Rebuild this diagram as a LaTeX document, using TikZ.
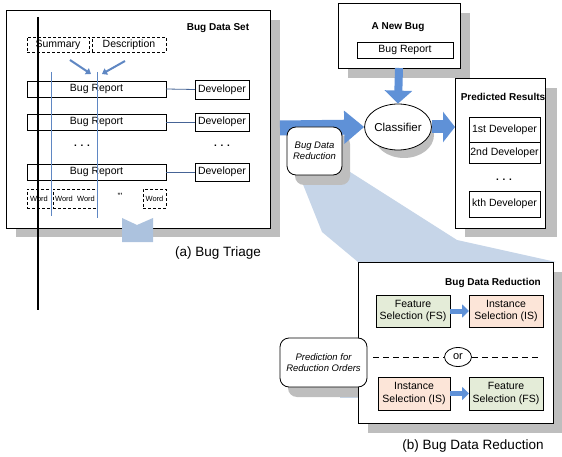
\documentclass[tikz,border=0pt]{standalone}
\usepackage{fontspec}
\setmainfont{Liberation Sans}
\usetikzlibrary{shapes.geometric,arrows.meta,calc}
\definecolor{arrowblue}{RGB}{95,145,215}
\definecolor{fanblue}{RGB}{198,213,232}
\definecolor{notchblue}{RGB}{172,194,222}
\definecolor{lineblue}{RGB}{95,135,195}
\definecolor{linkblue}{RGB}{70,100,150}
\definecolor{shadowgrey}{RGB}{190,190,190}
\definecolor{fsgreen}{RGB}{228,236,216}
\definecolor{ispeach}{RGB}{252,229,216}
\newcommand\rnode[7]{\node[#6, minimum width={#4-#2}, minimum height={#5-#3}, anchor=north west] (#1) at (#2,#3) {#7};}
\begin{document}
\begin{tikzpicture}[x=1pt,y=-1pt,
  box/.style={draw=black, line width=0.8pt, fill=white, inner sep=0pt, outer sep=0pt, font=\fontsize{10.5}{12}\selectfont},
  dbox/.style={box, dash pattern=on 3pt off 2pt},
  wbox/.style={dbox, font=\fontsize{7.5}{9}\selectfont},
  rbox/.style={box, rounded corners=9pt, align=center, font=\fontsize{9.5}{11.5}\selectfont\itshape},
  selbox/.style={box, align=center, font=\fontsize{10.5}{12.5}\selectfont},
  title/.style={font=\fontsize{10}{12}\selectfont\bfseries, inner sep=0pt},
  caption/.style={font=\fontsize{13.5}{16}\selectfont, inner sep=0pt},
  dots/.style={font=\fontsize{10}{12}\selectfont\bfseries, inner sep=0pt},
  shadow/.style={fill=shadowgrey},
  fatarrow/.style={draw=arrowblue, line width=#1},
  smallarrow/.style={draw=lineblue, line width=2pt, -{Triangle[length=5pt,width=7pt]}},
  link/.style={draw=linkblue, line width=0.8pt},
  vline/.style={draw=lineblue, line width=1pt}
]
\useasboundingbox (0,0) rectangle (562,457);

% ---------- fan (light blue) ----------
\fill[fanblue] (300,177) -- (347,170) -- (457,240) -- (556,262) -- (358,262) -- (322,232) -- cycle;
\fill[fanblue] (340,360) rectangle (360,398);

% ---------- shadows ----------
\fill[shadow] (16,20) rectangle (280,237);
\fill[shadow] (348,13) rectangle (470,78);
\fill[shadow] (465,88) rectangle (557,237);
\fill[shadow] (368,272) rectangle (562,433);
\fill[shadow, rounded corners=9pt] (295,135) rectangle (350,185);
\fill[shadow, rounded corners=9pt] (288,346) rectangle (375,397);
\fill[shadow] (404,135) ellipse [x radius=30, y radius=23];

% ---------- classifier ----------
\node[draw=black, line width=0.8pt, fill=white, ellipse, minimum width=60pt, minimum height=46pt, inner sep=0pt, font=\fontsize{11.5}{13}\selectfont] (classifier) at (398,127) {Classifier};

% ---------- (a) Bug data set ----------
\rnode{dataset}{6}{10}{270}{228}{box}{}
\node[title] (dstitle) at (218,28) {Bug Data Set};
\rnode{summary}{27}{37}{89}{52}{dbox}{Summary}
\rnode{descr}{92}{37}{166}{52}{dbox}{Description}
\rnode{br1}{27}{81}{166}{97}{box}{Bug Report}
\rnode{br2}{27}{114}{166}{130}{box}{Bug Report}
\rnode{br3}{27}{164}{166}{180}{box}{Bug Report}
\node[dots] (brdots) at (82,146) {. . .};
\rnode{dev1}{195}{80}{249}{99}{box}{Developer}
\rnode{dev2}{195}{113}{249}{131}{box}{Developer}
\rnode{dev3}{195}{163}{249}{181}{box}{Developer}
\node[dots] (devdots) at (222,146) {. . .};
\draw[link] (br1.east) -- (dev1.west);
\draw[link] (br2.east) -- (dev2.west);
\draw[link] (br3.east) -- (dev3.west);
\rnode{w1}{27}{189}{51}{208}{wbox}{Word}
\rnode{w2}{53}{189}{97}{208}{wbox}{Word\ \ Word}
\node[font=\fontsize{9}{10}\selectfont, inner sep=0pt] (wdots) at (120,196) {'''};
\rnode{w3}{143}{189}{166}{208}{wbox}{Word}
% arrows from summary/description
\coordinate (sa1) at (70,60); \coordinate (sa2) at (91,74);
\coordinate (da1) at (125,61); \coordinate (da2) at (102,74);
\draw[smallarrow] (sa1) -- (sa2);
\draw[smallarrow] (da1) -- (da2);
% vertical blue lines
\coordinate (v1t) at (51,72); \coordinate (v1b) at (51,216);
\coordinate (v2t) at (97,72); \coordinate (v2b) at (97,218);
\draw[vline] (v1t) -- (v1b);
\draw[vline] (v2t) -- (v2b);
% notch at bottom
\fill[notchblue] (122,218) -- (137,225) -- (153,218) -- (153,242) -- (122,242) -- cycle;
\node[caption] (capa) at (218,253) {(a) Bug Triage};

% ---------- new bug ----------
\rnode{newbug}{338}{3}{460}{68}{box}{}
\node[title] (nbtitle) at (398,27) {A New Bug};
\rnode{nbreport}{357}{42}{453}{58}{box}{Bug Report}

% ---------- predicted results ----------
\rnode{predicted}{455}{78}{545}{228}{box}{}
\node[title] (prtitle) at (503,97) {Predicted Results};
\rnode{p1}{469}{117}{540}{142}{box}{1st Developer}
\rnode{p2}{469}{142}{540}{163}{box}{2nd Developer}
\node[dots] (pdots) at (504,180) {. . .};
\rnode{pk}{469}{191}{540}{217}{box}{kth Developer}

% ---------- fat arrows ----------
\coordinate (bigstart) at (280,128);
\draw[fatarrow=15pt, -{Triangle[length=20pt,width=32pt]}] (bigstart) -- (classifier.west);
\draw[fatarrow=13pt, -{Triangle[length=12pt,width=30pt]}] (classifier.east) -- (classifier.east -| predicted.west);
\draw[fatarrow=8pt, -{Triangle[length=13pt,width=27pt]}] (newbug.south) -- (classifier.north);

% ---------- bug data reduction bubble ----------
\rnode{bdr}{287}{127}{342}{175}{rbox}{Bug Data\\Reduction}

% ---------- (b) box ----------
\rnode{redbox}{358}{262}{553}{423}{box}{}
\node[title] (rbtitle) at (493,283) {Bug Data Reduction};
\rnode{fs1}{376}{295}{450}{327}{selbox, fill=fsgreen}{Feature\\Selection (FS)}
\rnode{is1}{469}{295}{543}{327}{selbox, fill=ispeach}{Instance\\Selection (IS)}
\rnode{is2}{378}{377}{450}{410}{selbox, fill=ispeach}{Instance\\Selection (IS)}
\rnode{fs2}{469}{377}{543}{410}{selbox, fill=fsgreen}{Feature\\Selection (FS)}
\draw[fatarrow=5pt, -{Triangle[length=7pt,width=13pt]}] (fs1.east) -- (is1.west);
\draw[fatarrow=5pt, -{Triangle[length=7pt,width=13pt]}] (is2.east) -- (fs2.west);
\node[draw=black, line width=0.8pt, fill=white, ellipse, minimum width=27pt, minimum height=19pt, inner sep=0pt, font=\fontsize{11}{12}\selectfont] (or) at (458,357) {or};
\coordinate (dl1) at (373,357); \coordinate (dl2) at (540,357);
\draw[line width=0.8pt, dash pattern=on 6pt off 4pt] (dl1) -- (or.west);
\draw[line width=0.8pt, dash pattern=on 6pt off 4pt] (or.east) -- (dl2);

\rnode{pred}{280}{338}{367}{387}{rbox}{Prediction for\\Reduction Orders}
\node[caption] (capb) at (473,446) {(b) Bug Data Reduction};

% ---------- black vertical line ----------
\coordinate (blt) at (38,17); \coordinate (blb) at (38,310);
\draw[line width=1.2pt] (blt) -- (blb);
\end{tikzpicture}
\end{document}
